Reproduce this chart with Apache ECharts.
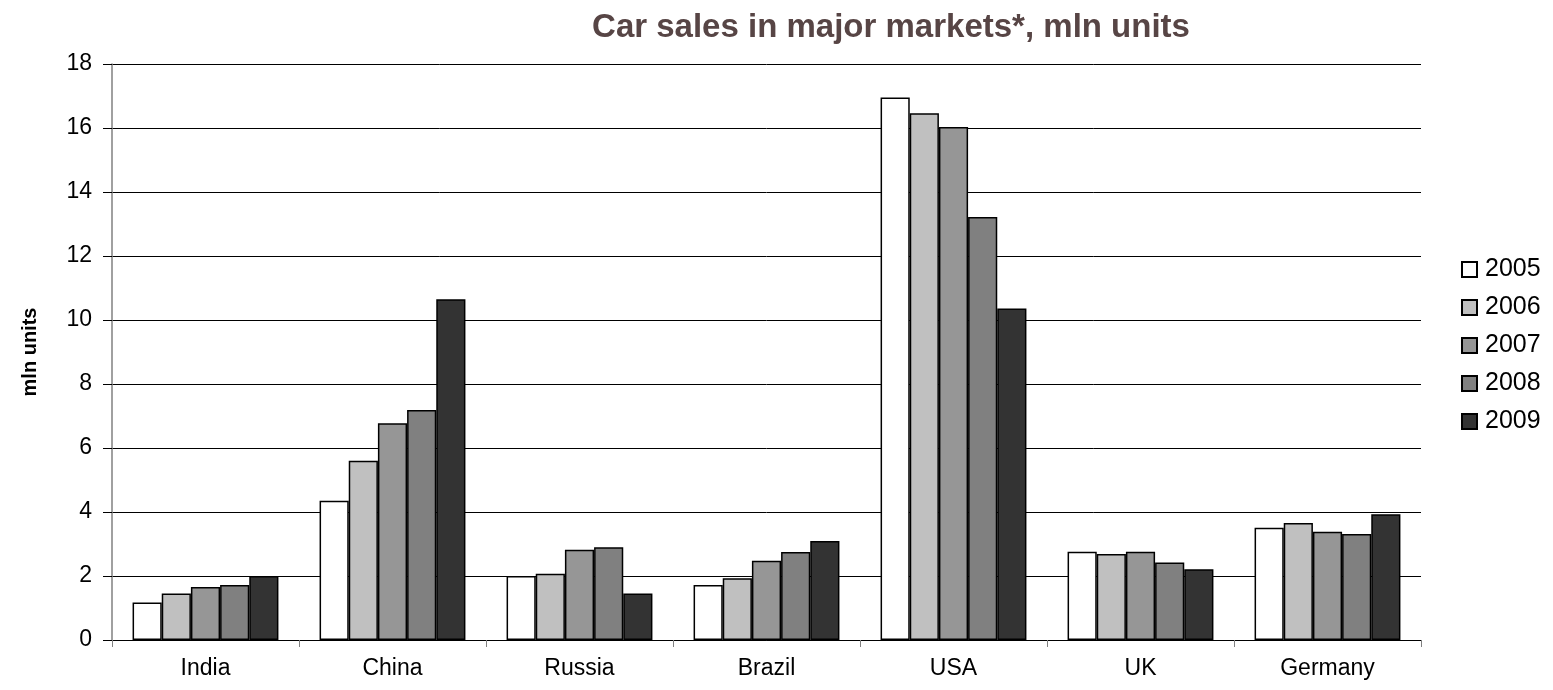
<!DOCTYPE html>
<html>
<head>
<meta charset="utf-8">
<script src="https://cdn.jsdelivr.net/npm/echarts@6/dist/echarts.min.js"></script>
<style>
  html, body { margin: 0; padding: 0; background: #fff; }
  #chart { width: 1553px; height: 690px; }
</style>
</head>
<body>
<div id="chart"></div>
<script>
// Car sales by market and year, millions of units
const markets = ['India', 'China', 'Russia', 'Brazil', 'USA', 'UK', 'Germany'];
const years = ['2005', '2006', '2007', '2008', '2009'];
const sales2005 = [1.17, 4.35, 2.0, 1.72, 16.95, 2.76, 3.51];
const sales2006 = [1.45, 5.6, 2.07, 1.93, 16.46, 2.69, 3.66];
const sales2007 = [1.66, 6.77, 2.82, 2.48, 16.03, 2.76, 3.38];
const sales2008 = [1.72, 7.19, 2.9, 2.75, 13.22, 2.42, 3.31];
const sales2009 = [2.0, 10.65, 1.45, 3.09, 10.36, 2.21, 3.93];
const yTicks = [0, 2, 4, 6, 8, 10, 12, 14, 16, 18];

const seriesValues = [sales2005, sales2006, sales2007, sales2008, sales2009];
const fills = ['#ffffff', '#c0c0c0', '#969696', '#808080', '#333333'];
const FONT = '"Liberation Sans", Arial, sans-serif';

const chart = echarts.init(document.getElementById('chart'), null, { renderer: 'canvas' });
chart.setOption({
  animation: false,
  backgroundColor: '#ffffff',
  title: {
    text: 'Car sales in major markets*, mln units',
    left: 886,
    top: 6,
    textAlign: 'center',
    textStyle: { fontFamily: FONT, fontSize: 33, fontWeight: 'bold', color: '#574545' }
  },
  legend: {
    orient: 'vertical',
    left: 1456,
    top: 252,
    itemWidth: 15,
    itemHeight: 15,
    itemGap: 13,
    icon: 'rect',
    data: years,
    textStyle: { fontFamily: FONT, fontSize: 25, color: '#000', padding: [0, 0, 0, 3] }
  },
  grid: { left: 112, right: 132, top: 64, bottom: 50, containLabel: false },
  xAxis: {
    type: 'category',
    data: markets,
    axisLine: { lineStyle: { color: '#000', width: 1 } },
    axisTick: { show: true, alignWithLabel: false, length: 7, lineStyle: { color: '#808080' } },
    axisLabel: { fontFamily: FONT, fontSize: 23, color: '#000', margin: 17 }
  },
  yAxis: {
    type: 'value',
    min: 0,
    max: 18,
    interval: 2,
    name: 'mln units',
    nameLocation: 'middle',
    nameGap: 72,
    nameTextStyle: { fontFamily: FONT, fontSize: 20, fontWeight: 'bold', color: '#000' },
    axisLine: { show: true, lineStyle: { color: '#808080', width: 1.5 } },
    axisTick: { show: true, length: 9, lineStyle: { color: '#000' } },
    axisLabel: {
      fontFamily: FONT, fontSize: 23, color: '#000', margin: 20,
      formatter: v => (yTicks.includes(v) ? String(v) : '')
    },
    splitLine: { show: true, lineStyle: { color: '#000', width: 1 } }
  },
  series: years.map((y, i) => ({
    name: y,
    type: 'bar',
    data: seriesValues[i],
    barGap: '0%',
    barCategoryGap: '22%',
    itemStyle: { color: fills[i], borderColor: '#000', borderWidth: 1.5 }
  }))
});
</script>
</body>
</html>
